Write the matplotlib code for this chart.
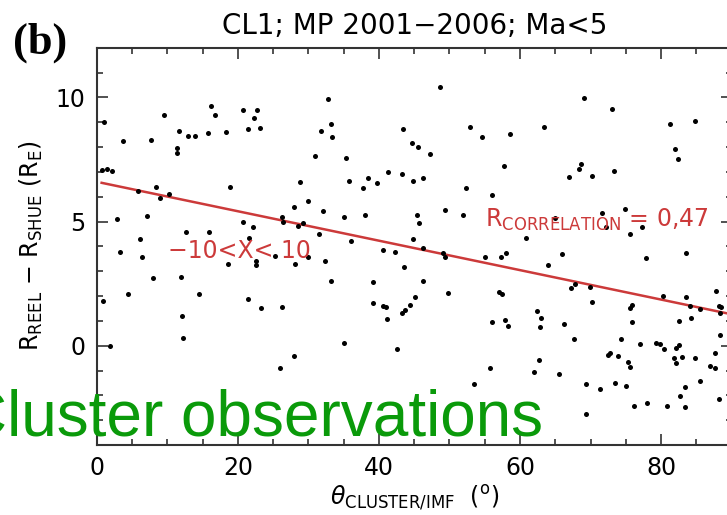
import numpy as np
import matplotlib
matplotlib.use("Agg")
import matplotlib.pyplot as plt
from matplotlib.ticker import MultipleLocator

# angle between Cluster and IMF (deg) and R_reel - R_shue (R_E)
theta = [
    1.03, 0.71, 1.42, 2.12, 3.77, 2.83, 3.30, 9.53, 7.69, 5.89, 8.36, 8.97, 10.28, 7.08, 6.13, 6.37,
    11.42, 11.42, 11.70, 12.97, 13.92, 16.19, 16.76, 15.81, 18.31, 18.88, 12.65, 15.91, 20.68, 22.66,
    22.32, 21.39, 23.13, 20.68, 22.10, 21.61, 26.20, 26.43, 27.95, 28.80, 29.97, 28.47, 29.26, 30.92,
    31.73, 32.80, 33.19, 33.37, 32.10, 31.44, 35.31, 35.74, 35.03, 36.02, 37.76, 38.47, 38.00, 39.75,
    41.30, 43.43, 43.34, 40.60, 42.25,
    48.63, 44.62, 45.55, 47.21, 44.84, 46.18, 52.88, 54.67, 58.54, 63.40, 69.02, 73.03, 57.73, 52.27,
    56.03, 49.33, 45.41, 45.65, 51.93, 44.76, 46.26, 49.33, 66.94, 68.36, 68.70, 70.20, 73.27, 81.30,
    84.84, 81.91, 82.44, 64.92, 60.81, 71.67, 72.14, 74.93, 75.54, 77.28, 55.00, 57.37, 58.07, 65.95,
    77.90, 83.47,
    0.93, 4.39, 7.93, 11.90, 12.12, 12.27, 1.88, 14.53, 18.56, 22.52, 22.52, 25.25, 21.47, 23.23,
    26.20, 28.09, 29.97, 32.34, 33.19, 43.53, 39.09, 39.09, 40.51, 40.98, 41.08, 43.20, 43.67, 35.07,
    42.58, 27.99, 25.96,
    49.09, 46.26, 45.08, 44.38, 49.72, 56.98, 57.45, 63.97, 67.28, 67.85, 69.97, 70.25, 62.46, 62.93,
    62.79, 56.09, 57.83, 58.30, 66.23, 67.61, 75.54, 75.86, 75.92, 74.36, 80.25, 83.47, 84.04, 85.55,
    87.82, 88.19, 88.53, 88.39, 82.52, 84.28, 76.95, 79.22, 79.79, 80.40, 82.15, 82.48, 81.77, 82.15,
    83.00, 84.75, 88.29, 87.58, 86.87, 87.58, 72.46, 72.71, 73.88, 75.30, 75.64, 62.69, 61.98, 65.52,
    55.81, 53.44, 69.31, 71.39, 73.41, 74.97, 83.43, 82.62, 85.45, 76.15, 77.99, 80.88, 83.43, 88.19,
    69.31,
]
delta_r = [
    9.00, 7.08, 7.10, 7.04, 8.24, 5.10, 3.76, 9.29, 8.28, 6.24, 6.38, 5.96, 6.11, 5.24, 4.30, 3.58,
    7.95, 7.77, 8.65, 8.46, 8.45, 9.67, 9.29, 8.57, 8.62, 6.38, 4.59, 4.59, 9.49, 9.49,
    9.16, 8.73, 8.76, 4.97, 4.79, 4.33, 5.20, 4.99, 5.60, 6.59, 5.83, 4.83, 4.95, 7.65,
    8.65, 9.94, 8.93, 8.42, 5.42, 4.49, 7.57, 6.65, 5.20, 4.22, 6.36, 6.77, 5.26, 6.54,
    6.98, 8.72, 6.90, 3.85, 3.79,
    10.41, 8.15, 7.99, 7.72, 6.65, 6.77, 8.82, 8.39, 8.53, 8.80, 9.99, 9.53, 7.24, 6.35,
    6.06, 5.47, 5.25, 4.93, 5.25, 4.29, 3.92, 3.58, 6.81, 7.10, 7.31, 6.82, 7.02, 8.92,
    9.04, 7.92, 7.52, 5.13, 4.35, 5.33, 4.79, 5.51, 4.49, 4.79, 3.58, 3.58, 3.72, 3.68,
    3.52, 3.75,
    1.80, 2.08, 2.71, 2.75, 1.21, 0.32, -0.01, 2.07, 3.28, 3.42, 3.25, 3.61, 1.87, 1.53,
    1.57, 3.29, 3.58, 3.42, 2.62, 3.18, 2.58, 1.71, 1.61, 1.57, 1.08, 1.33, 1.44, 0.10,
    -0.14, -0.40, -0.89,
    3.72, 2.62, 1.95, 1.64, 2.11, 2.15, 2.07, 3.25, 2.34, 2.47, 2.35, 1.75, 1.40, 1.10,
    0.77, 0.97, 1.04, 0.81, 0.86, 0.26, 1.53, 1.64, 0.94, 0.27, 2.01, 1.97, 1.60, 1.48,
    2.20, 1.60, 1.57, 1.33, 0.99, 1.13, 0.06, 0.10, 0.06, -0.14, -0.10, 0.03, -0.51, -0.68,
    -0.47, -0.51, 0.43, -0.28, -0.81, -0.89, -0.37, -0.31, -0.40, -0.64, -0.87, -0.58, -1.07, -1.15,
    -0.91, -1.55, -1.54, -1.74, -1.49, -1.61, -1.65, -2.01, -1.41, -2.43, -2.30, -2.42, -2.46, -2.15,
    -2.76,
]

# linear fit drawn on the figure
fit_intercept = 6.60
fit_slope = -0.0593
fit_x = [0.7, 90.0]

red = "#cc3a3a"
plt.rcParams["mathtext.fontset"] = "dejavusans"

fig = plt.figure(figsize=(7.27, 5.15), dpi=100)
ax = fig.add_axes([0.1330, 0.1359, 0.8735, 0.7715])

ax.scatter(theta, delta_r, s=13, color="black", linewidths=0, zorder=3)
fx = np.array(fit_x)
ax.plot(fx, fit_intercept + fit_slope * fx, color=red, lw=1.8, zorder=2)

ax.text(10.1, 3.53, "\u221210<X< 10", color=red, fontsize=17, va="baseline")
ax.text(55.1, 4.78, r"R$_{\mathrm{CORRELATION}}$ = 0,47", color=red, fontsize=17, va="baseline")

ax.set_xlim(0, 90)
ax.set_ylim(-4, 12)
ax.xaxis.set_major_locator(MultipleLocator(20))
ax.xaxis.set_minor_locator(MultipleLocator(5))
ax.yaxis.set_major_locator(MultipleLocator(5))
ax.yaxis.set_minor_locator(MultipleLocator(1))
ax.tick_params(which="both", direction="in", top=True, right=True, color="#333333", width=1.2)
ax.tick_params(which="major", length=8, labelsize=17, pad=8)
ax.tick_params(which="minor", length=4)
for sp in ax.spines.values():
    sp.set_linewidth(1.5)
    sp.set_color("#333333")

ax.set_title("CL1; MP 2001\u22122006; Ma<5", fontsize=20, pad=10)
ax.set_xlabel(r"$\theta_{\mathrm{CLUSTER/IMF}}$  ($^{\mathrm{o}}$)", fontsize=17, labelpad=3)
ax.set_ylabel(r"R$_{\mathrm{REEL}}$ $-$ R$_{\mathrm{SHUE}}$ (R$_{\mathrm{E}}$)", fontsize=17, labelpad=8)

fig.text(13 / 727, 1 - 43 / 515, "(b)", fontsize=32, fontweight="bold",
         family="Liberation Serif", va="center", ha="left")
fig.text(543 / 727, 1 - 435 / 515, "Cluster observations", fontsize=46,
         family="Liberation Sans", color="#0a9a0a", ha="right", va="baseline")

fig.savefig("out.png", dpi=100)
